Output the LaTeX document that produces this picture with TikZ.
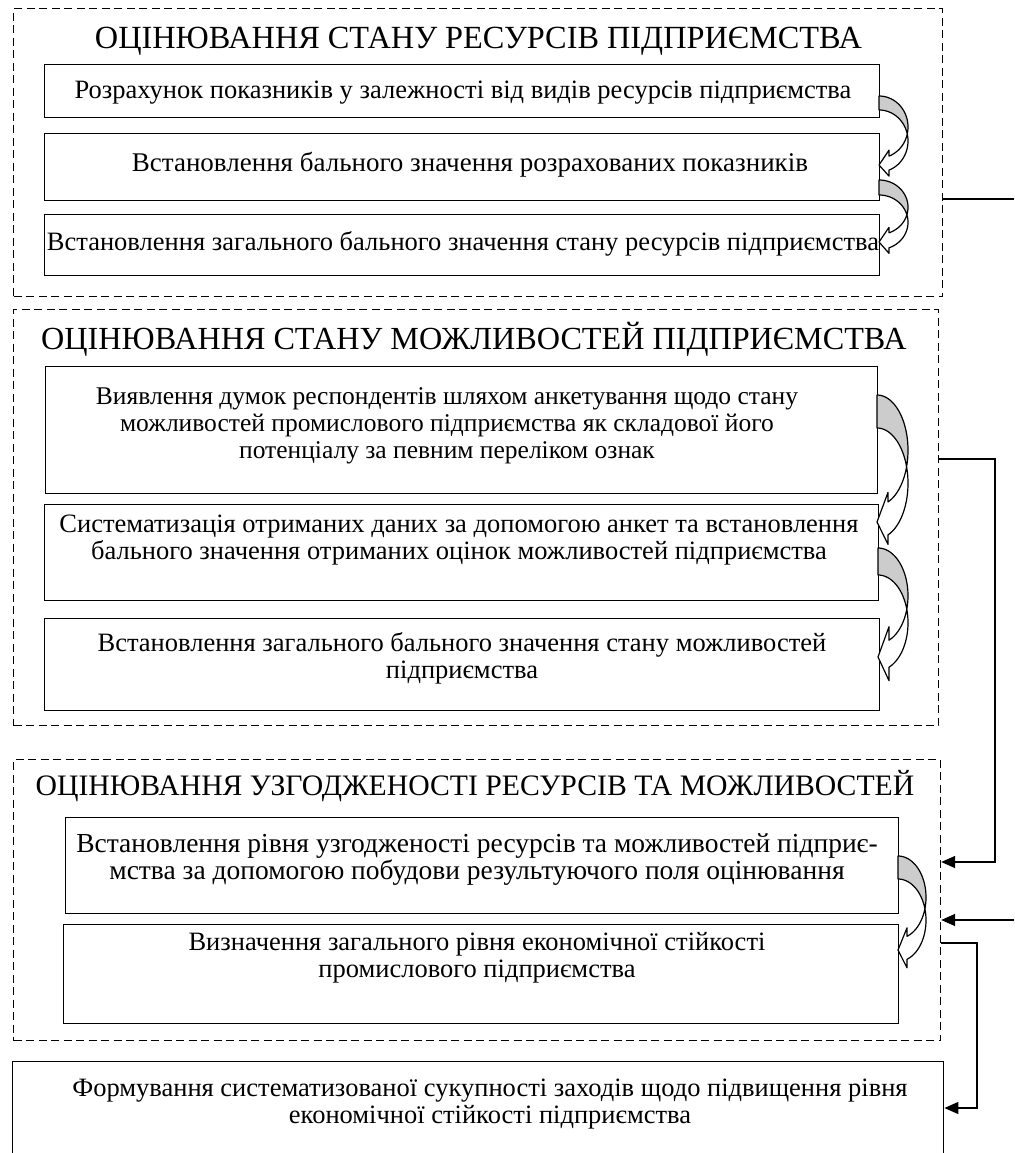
\documentclass[tikz,border=0pt]{standalone}
\usepackage{fontspec}
\setmainfont{Liberation Serif}
\usetikzlibrary{arrows.meta}
\definecolor{backgray}{RGB}{204,204,204}
% curved block arrow: left x, top y, width, height, band thickness, head width, head length
\newcommand{\curvearr}[7]{%
  \pgfmathsetmacro{\caL}{#1}\pgfmathsetmacro{\caT}{#2}\pgfmathsetmacro{\caW}{#3}%
  \pgfmathsetmacro{\caH}{#4}\pgfmathsetmacro{\caTh}{#5}\pgfmathsetmacro{\caAw}{#6}\pgfmathsetmacro{\caAh}{#7}%
  \pgfmathsetmacro{\caR}{\caH/2-(\caTh+\caAw)/4}%
  \pgfmathsetmacro{\caYA}{\caT+\caR}%
  \pgfmathsetmacro{\caYB}{\caT+\caR+\caTh}%
  \pgfmathsetmacro{\caPI}{asin(\caTh/(2*\caR))}%
  \pgfmathsetmacro{\caPE}{acos(\caAh/\caW)}%
  \pgfmathsetmacro{\caXA}{\caL+\caAh}%
  \pgfmathsetmacro{\caYfive}{\caYA+\caR*sin(\caPE)}%
  \pgfmathsetmacro{\caDh}{(\caAw-\caTh)/2}%
  \pgfmathsetmacro{\caYfour}{\caYfive-\caDh}%
  \pgfmathsetmacro{\caYeight}{\caYfive+\caTh+\caDh}%
  \pgfmathsetmacro{\caYsix}{\caT+\caH-\caAw/2}%
  \draw[arrline, fill=backgray]
    plot[domain=-90:\caPI, samples=30, variable=\q] ({\caL+\caW*cos(\q)},{\caYA+\caR*sin(\q)})
    -- plot[domain=-\caPI:-90, samples=30, variable=\q] ({\caL+\caW*cos(\q)},{\caYB+\caR*sin(\q)})
    -- cycle;
  \draw[arrline, fill=white]
    plot[domain=-\caPI:\caPE, samples=30, variable=\q] ({\caL+\caW*cos(\q)},{\caYB+\caR*sin(\q)})
    -- (\caXA,\caYeight) -- (\caL,\caYsix) -- (\caXA,\caYfour) -- (\caXA,\caYfive)
    -- plot[domain=\caPE:\caPI, samples=30, variable=\q] ({\caL+\caW*cos(\q)},{\caYA+\caR*sin(\q)})
    -- cycle;
}
\begin{document}
\begin{tikzpicture}[x=1pt,y=-1pt,
  grp/.style={draw, dash pattern=on 8pt off 4.5pt, line width=1.2pt, inner sep=0pt, anchor=north west},
  box/.style={draw, line width=1.4pt, fill=white, inner sep=0pt, anchor=north west},
  arrline/.style={line width=1.2pt, line join=round},
  conn/.style={line width=1.5pt},
  tip/.style={-{Triangle[length=14pt,width=12pt]}},
  ttl/.style={inner sep=0pt, anchor=base},
  one/.style={font=\fontsize{26.5}{27}\selectfont, inner sep=0pt, anchor=base},
  multi/.style={font=\fontsize{26.5}{27}\selectfont, inner sep=0pt, align=center, anchor=center}
]
\useasboundingbox (0,0) rectangle (1014,1153);
\fill[white] (0,0) rectangle (1014,1153);

% group frames
\node[grp, minimum width=929pt, minimum height=288pt] (g1) at (13,8) {};
\node[grp, minimum width=925pt, minimum height=416pt] (g2) at (13,309) {};
\node[grp, minimum width=927pt, minimum height=281pt] (g3) at (13,759) {};

% titles
\node[ttl, font=\fontsize{32.3}{38}\selectfont] (t1) at (478.5,48.5) {ОЦІНЮВАННЯ СТАНУ РЕСУРСІВ ПІДПРИЄМСТВА};
\node[ttl, font=\fontsize{32.2}{38}\selectfont] (t2) at (474,349) {ОЦІНЮВАННЯ СТАНУ МОЖЛИВОСТЕЙ ПІДПРИЄМСТВА};
\node[ttl, font=\fontsize{29.7}{36}\selectfont] (t3) at (475,795) {ОЦІНЮВАННЯ УЗГОДЖЕНОСТІ РЕСУРСІВ ТА МОЖЛИВОСТЕЙ};

% boxes
\node[box, minimum width=835pt, minimum height=53pt] (b1) at (44,64) {};
\node[box, minimum width=835pt, minimum height=67pt] (b2) at (44,133) {};
\node[box, minimum width=835pt, minimum height=61pt] (b3) at (44,214) {};
\node[box, minimum width=832pt, minimum height=127pt] (c1) at (45,366) {};
\node[box, minimum width=834pt, minimum height=96pt] (c2) at (44,504) {};
\node[box, minimum width=835pt, minimum height=92pt] (c3) at (44,618) {};
\node[box, minimum width=833pt, minimum height=96pt] (d1) at (65,817) {};
\node[box, minimum width=835pt, minimum height=99pt] (d2) at (63,924) {};
\node[box, minimum width=931pt, minimum height=130pt] (fin) at (12,1061) {};

% texts
\node[one] (b1t) at (463,99) {Розрахунок показників у залежності від видів ресурсів підприємства};
\node[one, font=\fontsize{27}{27}\selectfont] (b2t) at (470,171) {Встановлення бального значення розрахованих показників};
\node[one] (b3t) at (463,250) {Встановлення загального бального значення стану ресурсів підприємства};
\node[multi, font=\fontsize{25.5}{27}\selectfont] (c1t) at (447,425.5) {Виявлення думок респондентів шляхом анкетування щодо стану\\можливостей промислового підприємства як складової його\\потенціалу за певним переліком ознак};
\node[multi] (c2t) at (459,540.5) {Систематизація отриманих даних за допомогою анкет та встановлення\\бального значення отриманих оцінок можливостей підприємства};
\node[multi] (c3t) at (462,658.5) {Встановлення загального бального значення стану можливостей\\підприємства};
\node[multi, font=\fontsize{27.5}{27}\selectfont] (d1t) at (477,859.5) {Встановлення рівня узгодженості ресурсів та можливостей підприє-\\мства за допомогою побудови результуючого поля оцінювання};
\node[multi] (d2t) at (477,958) {Визначення загального рівня економічної стійкості\\промислового підприємства};
\node[multi] (fint) at (490,1104.5) {Формування систематизованої сукупності заходів щодо підвищення рівня\\економічної стійкості підприємства};

% curved block arrows
\curvearr{879}{96}{29}{82}{14}{26}{10}
\curvearr{879}{180}{29}{75}{15}{26}{10}
\curvearr{877}{395}{31}{153}{33}{52}{11}
\curvearr{878}{548}{30}{136}{27}{54}{11}
\curvearr{898}{856}{28}{114}{23}{40}{9}

% connectors
\coordinate (r1) at (1014,199);
\draw[conn] (g1.east |- r1) -- (r1);
\coordinate (k1) at (995,459);
\coordinate (k2) at (995,862);
\draw[conn, tip] (g2.east |- k1) -- (k1) -- (k2) -- (g3.east |- k2);
\coordinate (r2) at (1014,920);
\draw[conn, tip] (r2) -- (g3.east |- r2);
\coordinate (k3) at (977,943);
\coordinate (k4) at (977,1108);
\draw[conn, tip] (g3.east |- k3) -- (k3) -- (k4) -- (fin.east |- k4);
\end{tikzpicture}
\end{document}
